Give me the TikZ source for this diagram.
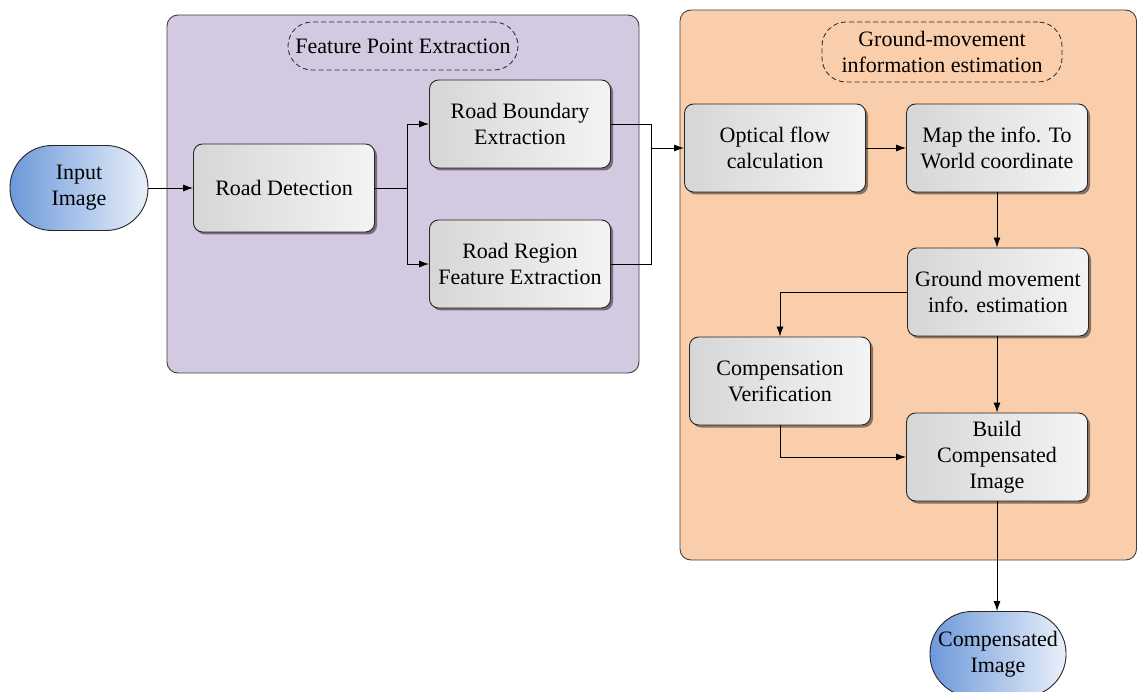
\documentclass[tikz,border=0pt]{standalone}
\usepackage{fontspec}
\setmainfont{Liberation Serif}
\usetikzlibrary{arrows.meta,shadows,calc}
\definecolor{panelpurple}{RGB}{211,201,224}
\definecolor{panelorange}{RGB}{250,206,170}
\definecolor{boxdark}{RGB}{214,214,214}
\definecolor{boxlight}{RGB}{244,244,244}
\definecolor{termblue}{RGB}{108,153,218}
\definecolor{termlight}{RGB}{234,240,250}
\tikzset{
  panel/.style={draw=black!75, line width=0.9pt, rounded corners=11pt},
  grouplabel/.style={draw=black!85, dash pattern=on 5pt off 3pt, line width=0.8pt,
    rounded corners=24pt, minimum width=230pt, minimum height=48pt, align=center},
  procbox/.style={draw=black!85, line width=0.9pt, rounded corners=9pt,
    minimum width=181pt, minimum height=88pt, align=center,
    left color=boxdark, right color=boxlight,
    drop shadow={shadow xshift=2.5pt, shadow yshift=-2.5pt, fill=black, opacity=0.45}},
  terminal/.style={draw=black!85, line width=0.9pt, rounded corners=42pt,
    minimum width=138pt, minimum height=85pt, align=center, inner sep=0pt,
    left color=termblue, right color=termlight},
  flow/.style={line width=0.9pt, -{Latex[length=10pt,width=7pt]}},
  link/.style={line width=0.9pt},
}
\begin{document}
\begin{tikzpicture}[x=1pt,y=-1pt, font=\fontsize{22}{26}\selectfont]
\useasboundingbox (0,0) rectangle (1137,692);

% group panels
\fill[white] (0,0) rectangle (1137,692);
\draw[panel, fill=panelpurple] (167,15) rectangle (639,373);
\draw[panel, fill=panelorange] (680,10) rectangle (1136.5,560);

\node[grouplabel] (fpe) at (403,46) {Feature Point Extraction};
\node[grouplabel, minimum width=240pt, minimum height=60pt] (gme) at (942,52)
  {Ground-movement\\information estimation};

% terminals
\node[terminal] (in) at (79,188) {Input\\Image};
\node[terminal, minimum width=136pt] (ci) at (998,654) {Compensated\\Image};

% processing steps
\node[procbox] (rd)   at (284,188) {Road Detection};
\node[procbox] (rbe)  at (520,124) {Road Boundary\\Extraction};
\node[procbox] (rrfe) at (520,264) {Road Region\\Feature Extraction};
\node[procbox] (of)   at (775,148) {Optical flow\\calculation};
\node[procbox] (map)  at (997,148) {Map the info. To\\World coordinate};
\node[procbox] (gm)   at (998,292) {Ground movement\\info. estimation};
\node[procbox] (cv)   at (780,381) {Compensation\\Verification};
\node[procbox] (bci)  at (997,457) {Build\\Compensated\\Image};

% junction columns
\coordinate (split) at (407,188);
\coordinate (merge) at (651,124);

% connectors
\draw[flow] (in.east) -- (rd.west);
\draw[link] (rd.east) -- (split);
\draw[flow] (split) |- (rbe.west);
\draw[flow] (split) |- (rrfe.west);
\draw[link] (rbe.east) -- (merge) |- (rrfe.east);
\draw[flow] (merge |- of.west) -- (of.west);
\draw[flow] (of.east) -- (map.west);
\draw[flow] (map.south) -- (map.south |- gm.north);
\draw[flow] (gm.west) -| (cv.north);
\draw[flow] (gm.south -| bci.north) -- (bci.north);
\draw[flow] (cv.south) |- (bci.west);
\draw[flow] (bci.south) -- (bci.south |- ci.north);
\end{tikzpicture}
\end{document}
